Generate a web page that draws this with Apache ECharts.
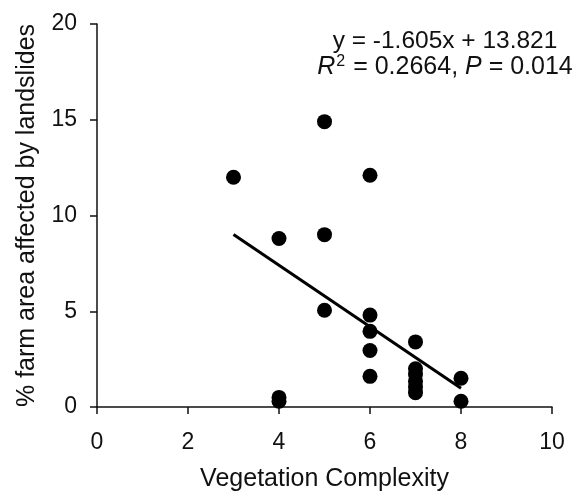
<!DOCTYPE html>
<html style="height: 100%">
<head>
    <meta charset="utf-8">
</head>
<body style="height: 100%; margin: 0; background: #fff">
<div id="container" style="width: 581px; height: 503px"></div>
<script type="text/javascript" src="https://cdn.jsdelivr.net/npm/echarts@6/dist/echarts.min.js"></script>
<script type="text/javascript">
    // vegetation complexity (x) vs % farm area affected by landslides (y)
    var complexity = [3, 4, 4, 4, 5, 5, 5, 6, 6, 6, 6, 6, 7, 7, 7, 7, 7, 7, 8, 8];
    var landslidePct = [12.0, 8.8, 0.5, 0.3, 14.9, 9.0, 5.05, 12.1, 4.8, 3.95, 2.95, 1.6,
        3.4, 2.0, 1.7, 1.35, 1.05, 0.75, 1.5, 0.3];
    // fitted trend line end points, y = -1.605x + 13.821
    var trendX = [3, 8];
    var trendY = [9.01, 0.98];
    var xTicks = [0, 2, 4, 6, 8, 10];
    var yTicks = [0, 5, 10, 15, 20];
    var eqLine = 'y = -1.605x + 13.821';

    var FONT = 'Liberation Sans, Arial, sans-serif';
    var INK = '#111';

    var points = complexity.map(function (x, i) {
        return [x, landslidePct[i]];
    });
    var trend = trendX.map(function (x, i) {
        return [x, trendY[i]];
    });

    var myChart = echarts.init(document.getElementById('container'));
    var option = {
        animation: false,
        backgroundColor: '#fff',
        grid: {left: 97, right: 29, top: 24, bottom: 96, containLabel: false},
        xAxis: {
            type: 'value',
            min: xTicks[0],
            max: xTicks[xTicks.length - 1],
            interval: xTicks[1] - xTicks[0],
            name: 'Vegetation Complexity',
            nameLocation: 'middle',
            nameGap: 60,
            nameTextStyle: {fontFamily: FONT, fontSize: 25, color: INK},
            axisLine: {lineStyle: {color: INK, width: 1.5}},
            axisTick: {show: true, length: 7, lineStyle: {color: INK, width: 1.5}},
            axisLabel: {margin: 24, fontFamily: FONT, fontSize: 23, color: INK},
            splitLine: {show: false}
        },
        yAxis: {
            type: 'value',
            min: yTicks[0],
            max: yTicks[yTicks.length - 1],
            interval: yTicks[1] - yTicks[0],
            name: '% farm area affected by landslides',
            nameLocation: 'middle',
            nameGap: 57,
            nameTextStyle: {fontFamily: FONT, fontSize: 25, color: INK},
            axisLine: {show: true, lineStyle: {color: INK, width: 1.5}},
            axisTick: {show: true, length: 7, lineStyle: {color: INK, width: 1.5}},
            axisLabel: {margin: 20, fontFamily: FONT, fontSize: 23, color: INK},
            splitLine: {show: false}
        },
        series: [{
            type: 'scatter',
            data: points,
            symbol: 'circle',
            symbolSize: 15,
            itemStyle: {color: '#000', opacity: 1},
            z: 3
        }, {
            type: 'line',
            data: trend,
            showSymbol: false,
            lineStyle: {color: '#000', width: 3},
            z: 2
        }],
        graphic: [{
            type: 'text',
            x: 445,
            y: 41,
            style: {
                text: eqLine,
                fontFamily: FONT,
                fontSize: 24.5,
                fill: INK,
                align: 'center',
                verticalAlign: 'middle'
            }
        }, {
            type: 'text',
            x: 445,
            y: 67,
            style: {
                text: '{i|R}{sup|2}{n| = 0.2664, }{i|P}{n| = 0.014}',
                fontFamily: FONT,
                fontSize: 25,
                fill: INK,
                align: 'center',
                verticalAlign: 'middle',
                rich: {
                    i: {fontFamily: FONT, fontSize: 25, fontStyle: 'italic', fill: INK},
                    n: {fontFamily: FONT, fontSize: 25, fill: INK},
                    sup: {fontFamily: FONT, fontSize: 16, fill: INK, verticalAlign: 'top', padding: [0, 1, 10, 1]}
                }
            }
        }]
    };
    myChart.setOption(option);
</script>
</body>
</html>
